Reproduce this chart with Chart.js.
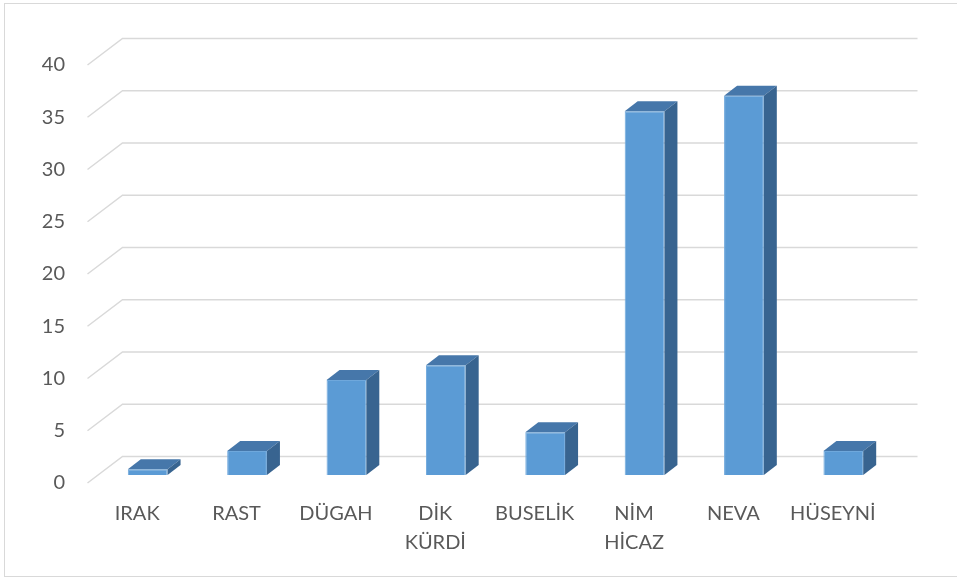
<!DOCTYPE html>
<html>
<head>
<meta charset="utf-8">
<script src="https://cdn.jsdelivr.net/npm/chart.js@4"></script>
<style>
  html, body { margin: 0; padding: 0; background: #fff; }
  #wrap { width: 957px; height: 579px; }
</style>
</head>
<body>
<div id="wrap"><canvas id="chart" width="957" height="579"></canvas></div>
<script>
// makam names and their share
const categories = ["IRAK", "RAST", "DÜGAH", ["DİK", "KÜRDİ"], "BUSELİK", ["NİM", "HİCAZ"], "NEVA", "HÜSEYNİ"];
const values = [0.55, 2.3, 9.1, 10.5, 4.1, 34.8, 36.3, 2.3];
const yTicks = [0, 5, 10, 15, 20, 25, 30, 35, 40];

// oblique depth offsets (px)
const WALL = { dx: 24.5, dy: -18.5 };   // bar plane -> back wall
const FRONT = { dx: -10.5, dy: 8 };     // bar plane -> front edge
const DEPTH = { dx: 13, dy: -10 };      // bar thickness

const frame3d = {
    id: "frame3d",
    beforeDraw(chart) {
        const ctx = chart.ctx;
        ctx.save();
        ctx.strokeStyle = "#d9d9d9";
        ctx.lineWidth = 1;
        ctx.strokeRect(4.5, 3.5, 980, 573);
        ctx.restore();
    },
    beforeDatasetsDraw(chart) {
        const ctx = chart.ctx;
        const y = chart.scales.y;
        const area = chart.chartArea;
        ctx.save();
        ctx.strokeStyle = "#d9d9d9";
        ctx.lineWidth = 1.5;
        y.ticks.forEach(t => {
            const py = y.getPixelForValue(t.value);
            ctx.beginPath();
            ctx.moveTo(area.left + FRONT.dx, py + FRONT.dy);
            ctx.lineTo(area.left + WALL.dx, py + WALL.dy);
            ctx.lineTo(area.right + WALL.dx, py + WALL.dy);
            ctx.stroke();
        });
        ctx.restore();
    },
    afterDatasetsDraw(chart) {
        const ctx = chart.ctx;
        const meta = chart.getDatasetMeta(0);
        ctx.save();
        meta.data.forEach(bar => {
            const { x, y, base, width } = bar.getProps(["x", "y", "base", "width"], true);
            const l = x - width / 2, r = x + width / 2;
            // top face
            ctx.fillStyle = "#4677AA";
            ctx.beginPath();
            ctx.moveTo(l, y);
            ctx.lineTo(l + DEPTH.dx, y + DEPTH.dy);
            ctx.lineTo(r + DEPTH.dx, y + DEPTH.dy);
            ctx.lineTo(r, y);
            ctx.closePath();
            ctx.fill();
            // side face
            ctx.fillStyle = "#386490";
            ctx.beginPath();
            ctx.moveTo(r, y);
            ctx.lineTo(r + DEPTH.dx, y + DEPTH.dy);
            ctx.lineTo(r + DEPTH.dx, base + DEPTH.dy);
            ctx.lineTo(r, base);
            ctx.closePath();
            ctx.fill();
        });
        ctx.restore();
    }
};

const labelFont = { family: "Lato, 'Open Sans', sans-serif", size: 20, lineHeight: 1.45 };

new Chart(document.getElementById("chart"), {
    type: "bar",
    data: {
        labels: categories,
        datasets: [{
            data: values,
            backgroundColor: "#5B9BD5",
            borderColor: "#6FA8DC",
            borderWidth: 1,
            categoryPercentage: 1,
            barPercentage: 0.4,
        }],
    },
    options: {
        responsive: false,
        animation: false,
        layout: { padding: { left: 0, right: 64, top: 57, bottom: 0 } },
        plugins: { legend: { display: false }, tooltip: { enabled: false } },
        scales: {
            x: {
                grid: { display: false, drawTicks: false },
                border: { display: false },
                ticks: {
                    color: "#595959",
                    font: labelFont,
                    padding: 24,
                    labelOffset: FRONT.dx,
                    maxRotation: 0,
                    autoSkip: false,
                },
                afterFit(scale) { scale.height = 104; },
            },
            y: {
                min: 0,
                max: 40,
                grid: { display: false, drawTicks: false },
                border: { display: false },
                afterBuildTicks(scale) { scale.ticks = yTicks.map(v => ({ value: v })); },
                ticks: {
                    color: "#595959",
                    font: labelFont,
                    padding: 33,
                    labelOffset: FRONT.dy,
                },
                afterFit(scale) { scale.width = 98; },
            },
        },
    },
    plugins: [frame3d],
});
</script>
</body>
</html>
